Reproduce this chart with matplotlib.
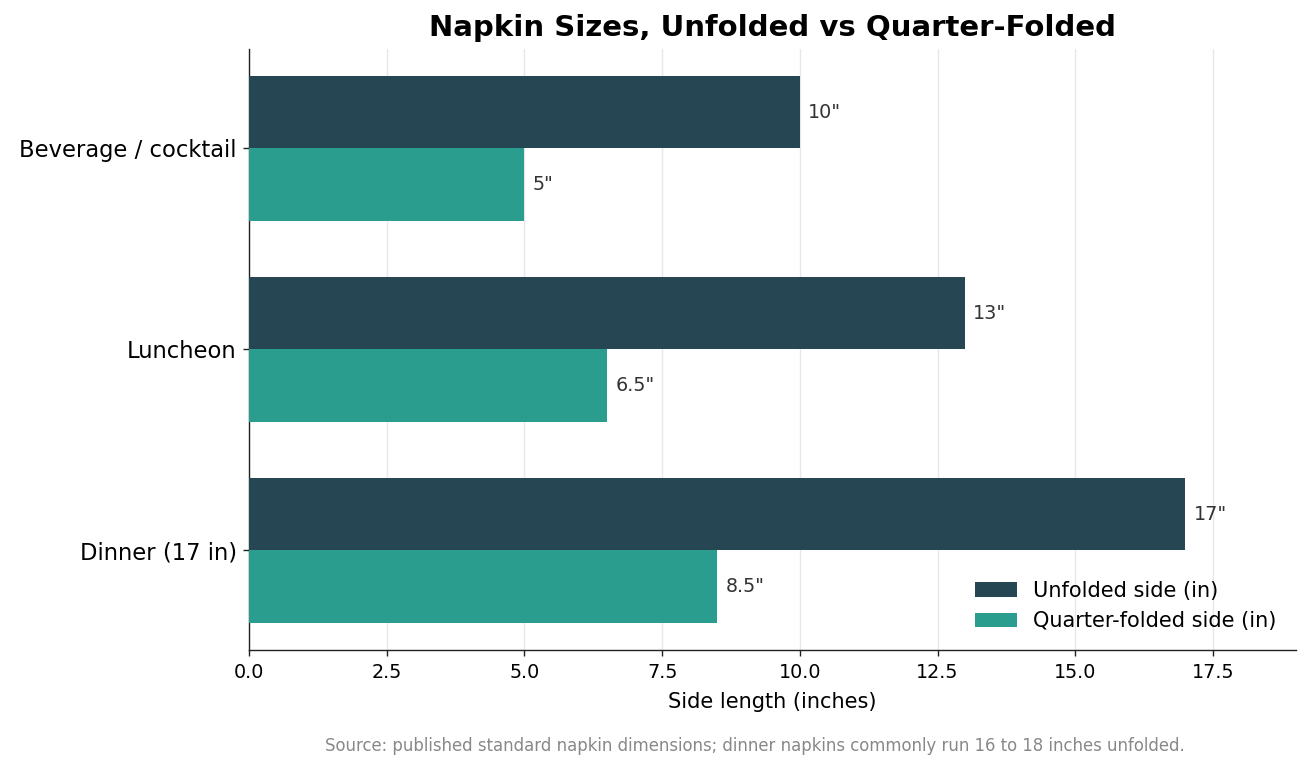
import numpy as np
import matplotlib
matplotlib.use("Agg")
import matplotlib.pyplot as plt

categories = ["Beverage / cocktail", "Luncheon", "Dinner (17 in)"]
unfolded = [10, 13, 17]
folded = [5, 6.5, 8.5]
unfolded_labels = ['10"', '13"', '17"']
folded_labels = ['5"', '6.5"', '8.5"']

fig, ax = plt.subplots(figsize=(10.48, 6.16), dpi=125)
fig.subplots_adjust(left=0.19, right=0.989, top=0.937, bottom=0.156)

y = np.arange(len(categories))
h = 0.36
b1 = ax.barh(y - h / 2, unfolded, height=h, color="#264653", label="Unfolded side (in)", zorder=3)
b2 = ax.barh(y + h / 2, folded, height=h, color="#2a9d8f", label="Quarter-folded side (in)", zorder=3)

for bar, lab in zip(b1, unfolded_labels):
    ax.text(bar.get_width() + 0.15, bar.get_y() + bar.get_height() / 2, lab,
            va="center", ha="left", fontsize=11, color="#333333")
for bar, lab in zip(b2, folded_labels):
    ax.text(bar.get_width() + 0.15, bar.get_y() + bar.get_height() / 2, lab,
            va="center", ha="left", fontsize=11, color="#333333")

ax.set_yticks(y)
ax.set_yticklabels(categories, fontsize=13)
ax.invert_yaxis()
ax.set_xlim(0, 19)
ax.tick_params(axis="x", labelsize=11, pad=4)
ax.tick_params(colors="#222222", labelcolor="black")
ax.set_xlabel("Side length (inches)", fontsize=12, labelpad=6)
ax.set_title("Napkin Sizes, Unfolded vs Quarter-Folded", fontsize=16.8, fontweight="bold", pad=7)
ax.grid(axis="x", color="#e8e8e8", linewidth=0.8, zorder=0)
ax.spines["top"].set_visible(False)
ax.spines["right"].set_visible(False)
for s in ("left", "bottom"):
    ax.spines[s].set_color("#222222")
ax.legend(loc="lower right", frameon=False, fontsize=12)

fig.text(0.576, 0.025, "Source: published standard napkin dimensions; dinner napkins commonly run 16 to 18 inches unfolded.",
         ha="center", fontsize=9.5, color="#888888")

fig.savefig("out.png", dpi=125)
